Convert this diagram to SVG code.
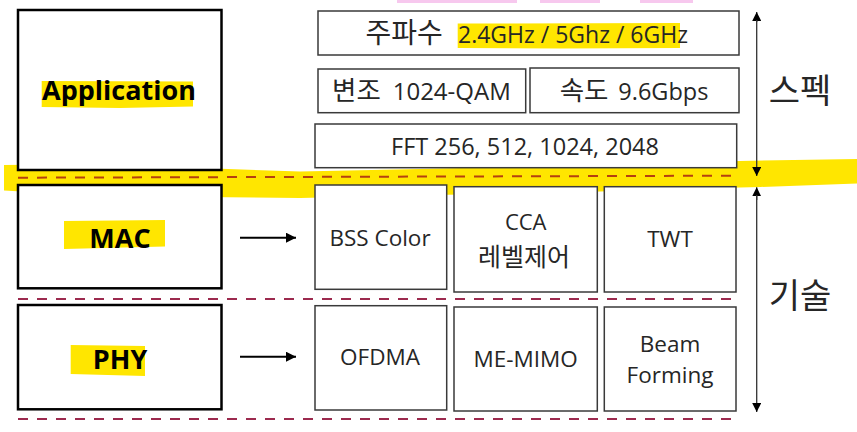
<svg xmlns="http://www.w3.org/2000/svg" width="857" height="432" viewBox="0 0 857 432">
<defs>
<marker id="ah" viewBox="0 0 10 10" refX="10" refY="5" markerWidth="10" markerHeight="10" markerUnits="userSpaceOnUse" orient="auto">
<path d="M0,0 L10,5 L0,10 z" fill="#000"/>
</marker>
<marker id="ah2" viewBox="0 0 10 10" refX="10" refY="5" markerWidth="9" markerHeight="9" markerUnits="userSpaceOnUse" orient="auto">
<path d="M0,0 L10,5 L0,10 z" fill="#000"/>
</marker>
</defs>
<style>
.big{fill:#fff;stroke:#000;stroke-width:2.5}
.box{fill:#fff;stroke:#3a3a3a;stroke-width:1.5}
.t{font-family:"Open Sans","Noto Sans CJK KR",sans-serif;fill:#262626;text-anchor:middle}
.s{font-family:"Open Sans","Noto Sans CJK KR",sans-serif;fill:#262626}
.k{font-family:"Noto Sans CJK KR",sans-serif}
.tb{font-family:"Open Sans","Noto Sans CJK KR",sans-serif;fill:#000;font-weight:bold;font-size:27px;text-anchor:middle}
.hl{fill:#ffe600}
.d1{stroke:#b5400f;stroke-width:2;stroke-dasharray:10 9;fill:none}
.d2{stroke:#9c2a4e;stroke-width:2;stroke-dasharray:10 9;fill:none}
.ar{stroke:#000;stroke-width:2;fill:none}
.va{stroke:#333;stroke-width:1.3;fill:none}
</style>
<rect x="397" y="0" width="120" height="3" fill="#f7c8ee"/>
<rect x="540" y="0" width="60" height="3" fill="#f7c8ee"/>
<rect x="640" y="0" width="53" height="3" fill="#f7c8ee"/>
<path class="hl" d="M4,165 L100,164 L200,168 L300,171.5 L420,169 L520,166.5 L620,162.7 L740,161 L857,159 L857,183.5 L760,187 L700,188.5 L600,191.5 L500,194 L430,195 L300,198 L200,197 L100,196.5 L30,192 L4,190.5 Z"/>
<g id="connectors">
<line class="d1" x1="18" y1="177.7" x2="735" y2="175.7"/>
<line class="d2" x1="18" y1="299" x2="735" y2="299"/>
<line class="d2" x1="18" y1="419" x2="735" y2="419"/>
<line class="ar" x1="240" y1="237.7" x2="296" y2="237.7" marker-end="url(#ah)"/>
<line class="ar" x1="240" y1="356.7" x2="296" y2="356.7" marker-end="url(#ah)"/>
<line class="va" x1="756.7" y1="22" x2="756.7" y2="12" marker-end="url(#ah2)"/>
<line class="va" x1="756.7" y1="20" x2="756.7" y2="176" marker-end="url(#ah2)"/>
<line class="va" x1="756.7" y1="200" x2="756.7" y2="187.3" marker-end="url(#ah2)"/>
<line class="va" x1="756.7" y1="195" x2="756.7" y2="412" marker-end="url(#ah2)"/>
</g>
<g id="application">
<rect class="big" x="18" y="10" width="203.5" height="160"/>
<path class="hl" d="M41.7,81 L193,81.5 L193,106.5 L120,108 L41.7,107 Z"/>
<text class="tb" x="119" y="100">Application</text>
</g>
<g id="mac">
<rect class="big" x="18" y="185" width="203.5" height="103.3"/>
<path class="hl" d="M64,221 L165,220 L165,246.5 L64,249 Z"/>
<text class="tb" x="120" y="247.7">MAC</text>
</g>
<g id="phy">
<rect class="big" x="18" y="305" width="203.5" height="104.3"/>
<path class="hl" d="M70.7,345 L145,346 L145,376 L70.7,374 Z"/>
<text class="tb" x="120" y="369">PHY</text>
</g>
<g id="freq">
<rect class="box" x="318" y="11" width="421" height="44"/>
<path class="hl" d="M457.7,23.5 L680,23 L680,48 L560,48.5 L457.7,48 Z"/>
<text class="s" y="43"><tspan class="k" x="365.5" font-size="28">주파수</tspan><tspan x="458" font-size="23">2.4GHz / 5Ghz / 6GHz</tspan></text>
</g>
<g id="mod">
<rect class="box" x="318" y="69" width="207.7" height="43.7"/>
<text class="s" y="100"><tspan class="k" x="332" font-size="26.5">변조</tspan><tspan x="392.7" font-size="24">1024-QAM</tspan></text>
</g>
<g id="speed">
<rect class="box" x="530" y="68" width="209" height="44.7"/>
<text class="s" y="100"><tspan class="k" x="559.7" font-size="26.5">속도</tspan><tspan x="618.3" font-size="23.5">9.6Gbps</tspan></text>
</g>
<g id="fft">
<rect class="box" x="315" y="124" width="421.7" height="43.7"/>
<text class="t" x="525" y="155" font-size="23.5">FFT 256, 512, 1024, 2048</text>
</g>
<g id="bss">
<rect class="box" x="315" y="185" width="131.7" height="104.3"/>
<text class="t" x="380" y="246" font-size="22.5">BSS Color</text>
</g>
<g id="cca">
<rect class="box" x="454" y="186.7" width="143.3" height="105.3"/>
<text class="t" x="525.7" y="230" font-size="22">CCA</text>
<text class="t k" x="524" y="266" font-size="25">레벨제어</text>
</g>
<g id="twt">
<rect class="box" x="604.3" y="186.7" width="131.7" height="105.3"/>
<text class="t" x="670" y="247.3" font-size="22.5">TWT</text>
</g>
<g id="ofdma">
<rect class="box" x="315" y="305.7" width="131.7" height="104.3"/>
<text class="t" x="380" y="365" font-size="22.5">OFDMA</text>
</g>
<g id="memimo">
<rect class="box" x="454" y="307" width="143.3" height="104"/>
<text class="t" x="525.7" y="367.3" font-size="22.5">ME-MIMO</text>
</g>
<g id="beam">
<rect class="box" x="604.3" y="307" width="131.7" height="104"/>
<text class="t" x="670" y="351.7" font-size="22.5">Beam</text>
<text class="t" x="670" y="383.3" font-size="22.5">Forming</text>
</g>
<g id="spec">
<text class="t k" x="800" y="102.5" font-size="34" fill="#000">스펙</text>
</g>
<g id="tech">
<text class="t k" x="800" y="307.5" font-size="34" fill="#000">기술</text>
</g>
</svg>
